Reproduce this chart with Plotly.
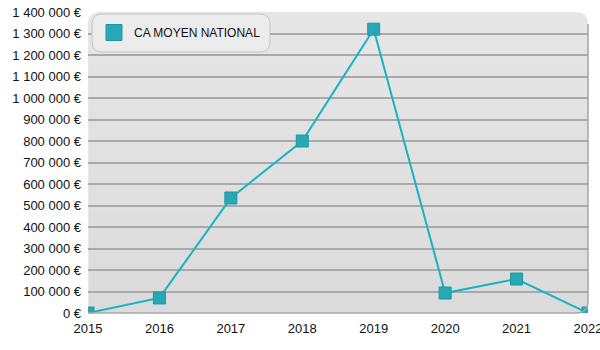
import plotly.graph_objects as go

years = [2015, 2016, 2017, 2018, 2019, 2020, 2021, 2022]
ca_moyen = [0, 70000, 535000, 800000, 1320000, 93000, 158000, 0]
tick_vals = [0, 100000, 200000, 300000, 400000, 500000, 600000, 700000,
             800000, 900000, 1000000, 1100000, 1200000, 1300000, 1400000]
tick_text = ["0 €", "100 000 €", "200 000 €", "300 000 €", "400 000 €", "500 000 €",
             "600 000 €", "700 000 €", "800 000 €", "900 000 €", "1 000 000 €",
             "1 100 000 €", "1 200 000 €", "1 300 000 €", "1 400 000 €"]
series_name = "CA MOYEN NATIONAL"

fig = go.Figure()
fig.add_trace(go.Scatter(
    x=years, y=ca_moyen, mode="lines+markers", showlegend=False,
    line=dict(color="#17b3c3", width=2),
    marker=dict(symbol="square", size=12, color="#27a8b4",
                line=dict(color="#1d98a5", width=1)),
))
fig.add_trace(go.Scatter(
    x=[None], y=[None], mode="markers", name=series_name,
    marker=dict(symbol="square", size=20, color="#27a8b4",
                line=dict(color="#1d98a5", width=1)),
))

W, H = 500, 301
rx, ry = 12 / W, 12 / H
path = (f"M {rx},1 L {1-rx},1 Q 1,1 1,{1-ry} L 1,{ry} Q 1,0 {1-rx},0 "
        f"L {rx},0 Q 0,0 0,{ry} L 0,{1-ry} Q 0,1 {rx},1 Z")
border = f"M 1,{1-ry} L 1,{ry} Q 1,0 {1-rx},0 L 0,0"
shapes = [
    dict(type="path", xref="paper", yref="paper", path=path, layer="below",
         fillcolor="#e6e6e6", line=dict(width=0)),
]
# soft vertical gradient (darker toward bottom)
nb = 12
for i in range(nb):
    y1 = 1 - (i + 1) / nb
    shapes.append(dict(type="rect", xref="paper", yref="paper", x0=0.001, x1=0.999,
                       y0=0.002, y1=y1 + 0.001, layer="below", opacity=0.012,
                       fillcolor="#888888", line=dict(width=0)))
shapes.append(dict(type="path", xref="paper", yref="paper", path=border, layer="above",
                   fillcolor="rgba(0,0,0,0)", line=dict(color="#a5a5a5", width=1.5)))
# legend box
lx0, lx1 = 4 / W, 182 / W
ly1, ly0 = (313 - 14) / H, (313 - 52) / H
lrx, lry = 10 / W, 10 / H
lpath = (f"M {lx0+lrx},{ly1} L {lx1-lrx},{ly1} Q {lx1},{ly1} {lx1},{ly1-lry} "
         f"L {lx1},{ly0+lry} Q {lx1},{ly0} {lx1-lrx},{ly0} L {lx0+lrx},{ly0} "
         f"Q {lx0},{ly0} {lx0},{ly0+lry} L {lx0},{ly1-lry} Q {lx0},{ly1} {lx0+lrx},{ly1} Z")
shapes.append(dict(type="path", xref="paper", yref="paper", path=lpath, layer="above",
                   fillcolor="#ececec", line=dict(color="#c4c4c4", width=1)))

fig.update_layout(
    width=600, height=350,
    margin=dict(l=88, r=12, t=12, b=37),
    paper_bgcolor="white", plot_bgcolor="rgba(0,0,0,0)",
    font=dict(family="Liberation Sans, Arial, sans-serif", size=13, color="#111111"),
    shapes=shapes,
    showlegend=True,
    legend=dict(x=0.012, y=0.98, xanchor="left", yanchor="top",
                bgcolor="rgba(0,0,0,0)", borderwidth=0,
                font=dict(size=12, color="#111111")),
    xaxis=dict(range=[2015, 2022], tickvals=years, ticktext=[str(y) for y in years],
               showgrid=False, zeroline=False, showline=False, ticks="",
               ticklabelstandoff=6, automargin=False, ticklabeloverflow="allow"),
    yaxis=dict(range=[0, 1400000], tickvals=tick_vals, ticktext=tick_text,
               showgrid=True, gridcolor="#a9a9a9", gridwidth=1.5, zeroline=False,
               showline=False, ticks="", ticklabelstandoff=6, automargin=False,
               ticklabeloverflow="allow"),
)
fig.write_html("out.html")
